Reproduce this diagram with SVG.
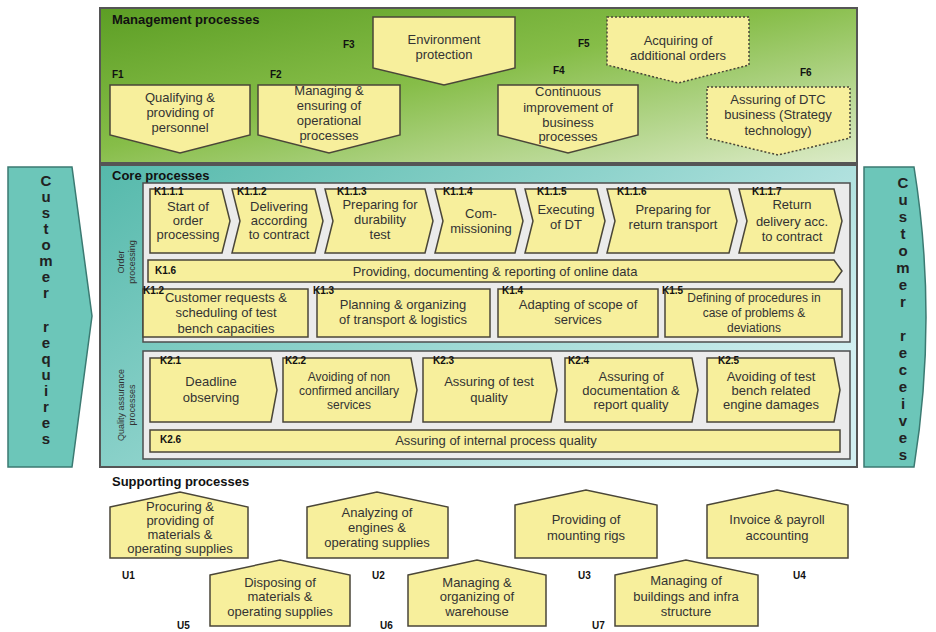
<svg xmlns="http://www.w3.org/2000/svg" width="936" height="632" viewBox="0 0 936 632">
<defs>
<linearGradient id="gMgmt" x1="0" y1="0" x2="1" y2="1">
<stop offset="0" stop-color="#5c9e24"/>
<stop offset="0.45" stop-color="#86bd48"/>
<stop offset="1" stop-color="#dcebc8"/>
</linearGradient>
<linearGradient id="gCore" x1="0" y1="0" x2="1" y2="0.6">
<stop offset="0" stop-color="#55b9ab"/>
<stop offset="0.5" stop-color="#8fd3cc"/>
<stop offset="1" stop-color="#d2eff1"/>
</linearGradient>
<style>
.t{font-family:"Liberation Sans",Arial,sans-serif;font-size:13px;fill:#333;text-anchor:middle}
.ts{font-family:"Liberation Sans",Arial,sans-serif;font-size:12px;fill:#333;text-anchor:middle}
.h{font-family:"Liberation Sans",Arial,sans-serif;font-size:13px;font-weight:bold;fill:#111}
.k{font-family:"Liberation Sans",Arial,sans-serif;font-size:10px;font-weight:bold;fill:#111}
.v{font-family:"Liberation Sans",Arial,sans-serif;font-size:9px;fill:#333;text-anchor:middle}
.c{font-family:"Liberation Sans",Arial,sans-serif;font-size:15px;font-weight:bold;fill:#222;text-anchor:middle}
.box{fill:#f7ef9c;stroke:#4a4638;stroke-width:1.5}
.dash{fill:#f7ef9c;stroke:#4a4638;stroke-width:1.5;stroke-dasharray:2 2}
.panel{fill:#ebebeb;stroke:#4d4d4d;stroke-width:1.5}
.cust{fill:#6cc6b9;stroke:#3b7a72;stroke-width:1.5}
</style>
</defs>
<rect width="936" height="632" fill="#ffffff"/>

<g id="management">
<rect x="100" y="8" width="757" height="155" fill="url(#gMgmt)" stroke="#555" stroke-width="2"/>
<text class="h" x="112" y="24">Management processes</text>
</g>
<g id="core">
<rect x="100" y="165" width="757" height="302" fill="url(#gCore)" stroke="#555" stroke-width="2"/>
<text class="h" x="112" y="180">Core processes</text>
</g>

<g id="customer-requires">
<polygon class="cust" points="8,167 72,167 92,316 72,467 8,467"/>
<text class="c" x="46" y="186">C</text><text class="c" x="46" y="202">u</text><text class="c" x="46" y="218">s</text><text class="c" x="46" y="234">t</text><text class="c" x="46" y="250">o</text><text class="c" x="46" y="266">m</text><text class="c" x="46" y="282">e</text><text class="c" x="46" y="298">r</text>
<text class="c" x="46" y="332">r</text><text class="c" x="46" y="348">e</text><text class="c" x="46" y="364">q</text><text class="c" x="46" y="380">u</text><text class="c" x="46" y="396">i</text><text class="c" x="46" y="412">r</text><text class="c" x="46" y="428">e</text><text class="c" x="46" y="444">s</text>
</g>
<g id="customer-receives">
<path class="cust" d="M864,167 L914,167 Q938,317 914,467 L864,467 Z"/>
<text class="c" x="903" y="188">C</text><text class="c" x="903" y="205">u</text><text class="c" x="903" y="222">s</text><text class="c" x="903" y="239">t</text><text class="c" x="903" y="256">o</text><text class="c" x="903" y="273">m</text><text class="c" x="903" y="290">e</text><text class="c" x="903" y="307">r</text>
<text class="c" x="903" y="341">r</text><text class="c" x="903" y="358">e</text><text class="c" x="903" y="375">c</text><text class="c" x="903" y="392">e</text><text class="c" x="903" y="409">i</text><text class="c" x="903" y="426">v</text><text class="c" x="903" y="443">e</text><text class="c" x="903" y="460">s</text>
</g>

<!-- Management nodes -->
<g id="F1">
<text class="k" x="112" y="78">F1</text>
<polygon class="box" points="110,85 250,85 250,135 180,153 110,135"/>
<text class="t" x="180" y="102">Qualifying &amp;</text><text class="t" x="180" y="117">providing of</text><text class="t" x="180" y="132">personnel</text>
</g>
<g id="F2">
<text class="k" x="270" y="78">F2</text>
<polygon class="box" points="258,85 400,85 400,135 329,153 258,135"/>
<text class="t" x="329" y="95">Managing &amp;</text><text class="t" x="329" y="110">ensuring of</text><text class="t" x="329" y="125">operational</text><text class="t" x="329" y="140">processes</text>
</g>
<g id="F3">
<text class="k" x="343" y="48">F3</text>
<polygon class="box" points="373,17 515,17 515,68 444,85 373,68"/>
<text class="t" x="444" y="44">Environment</text><text class="t" x="444" y="59">protection</text>
</g>
<g id="F4">
<text class="k" x="553" y="74">F4</text>
<polygon class="box" points="498,85 638,85 638,135 568,153 498,135"/>
<text class="t" x="568" y="96">Continuous</text><text class="t" x="568" y="112">improvement of</text><text class="t" x="568" y="127">business</text><text class="t" x="568" y="141">processes</text>
</g>
<g id="F5">
<text class="k" x="578" y="47">F5</text>
<polygon class="dash" points="607,17 749,17 749,65 678,83 607,65"/>
<text class="t" x="678" y="45">Acquiring of</text><text class="t" x="678" y="60">additional orders</text>
</g>
<g id="F6">
<text class="k" x="800" y="76">F6</text>
<polygon class="dash" points="707,87 850,87 850,138 778,155 707,138"/>
<text class="t" x="778" y="104">Assuring of DTC</text><text class="t" x="778" y="119">business (Strategy</text><text class="t" x="778" y="135">technology)</text>
</g>

<!-- Order processing panel -->
<g id="order-processing">
<rect class="panel" x="143" y="183" width="707" height="159"/>
<text class="v" transform="translate(124,262) rotate(-90)">Order</text>
<text class="v" transform="translate(135,262) rotate(-90)">processing</text>
</g>
<g id="K1.1.1">
<polygon class="box" points="150,189 222,189 230,221 222,253 150,253"/>
<text class="k" x="154" y="195">K1.1.1</text>
<text class="t" x="188" y="211">Start of</text><text class="t" x="188" y="225">order</text><text class="t" x="188" y="239">processing</text>
</g>
<g id="K1.1.2">
<polygon class="box" points="232,189 315,189 323,221 315,253 232,253 240,221"/>
<text class="k" x="237" y="195">K1.1.2</text>
<text class="t" x="279" y="211">Delivering</text><text class="t" x="279" y="225">according</text><text class="t" x="279" y="239">to contract</text>
</g>
<g id="K1.1.3">
<polygon class="box" points="325,189 425,189 433,221 425,253 325,253 333,221"/>
<text class="k" x="337" y="195">K1.1.3</text>
<text class="t" x="380" y="209">Preparing for</text><text class="t" x="380" y="224">durability</text><text class="t" x="380" y="239">test</text>
</g>
<g id="K1.1.4">
<polygon class="box" points="435,189 515,189 523,221 515,253 435,253 443,221"/>
<text class="k" x="443" y="195">K1.1.4</text>
<text class="t" x="481" y="218">Com-</text><text class="t" x="481" y="233">missioning</text>
</g>
<g id="K1.1.5">
<polygon class="box" points="525,189 597,189 605,221 597,253 525,253 533,221"/>
<text class="k" x="537" y="195">K1.1.5</text>
<text class="t" x="566" y="214">Executing</text><text class="t" x="566" y="229">of DT</text>
</g>
<g id="K1.1.6">
<polygon class="box" points="607,189 729,189 737,221 729,253 607,253 615,221"/>
<text class="k" x="617" y="195">K1.1.6</text>
<text class="t" x="673" y="214">Preparing for</text><text class="t" x="673" y="229">return transport</text>
</g>
<g id="K1.1.7">
<polygon class="box" points="739,189 834,189 842,221 834,253 739,253 747,221"/>
<text class="k" x="752" y="195">K1.1.7</text>
<text class="t" x="792" y="209">Return</text><text class="t" x="792" y="226">delivery acc.</text><text class="t" x="792" y="241">to contract</text>
</g>
<g id="K1.6">
<polygon class="box" points="148,260 834,260 842,271 834,282 148,282"/>
<text class="k" x="155" y="274">K1.6</text>
<text class="t" x="495" y="276">Providing, documenting &amp; reporting of online data</text>
</g>
<g id="K1.2">
<rect class="box" x="143" y="289" width="165" height="48"/>
<text class="k" x="143" y="294">K1.2</text>
<text class="t" x="226" y="302">Customer requests &amp;</text><text class="t" x="226" y="317">scheduling of test</text><text class="t" x="226" y="333">bench capacities</text>
</g>
<g id="K1.3">
<rect class="box" x="317" y="289" width="173" height="48"/>
<text class="k" x="313" y="294">K1.3</text>
<text class="t" x="403" y="309">Planning &amp; organizing</text><text class="t" x="403" y="324">of transport &amp; logistics</text>
</g>
<g id="K1.4">
<rect class="box" x="498" y="289" width="160" height="48"/>
<text class="k" x="502" y="294">K1.4</text>
<text class="t" x="578" y="309">Adapting of scope of</text><text class="t" x="578" y="324">services</text>
</g>
<g id="K1.5">
<rect class="box" x="665" y="289" width="177" height="48"/>
<text class="k" x="662" y="294">K1.5</text>
<text class="ts" x="754" y="302">Defining of procedures in</text><text class="ts" x="754" y="317">case of problems &amp;</text><text class="ts" x="754" y="332">deviations</text>
</g>

<!-- Quality assurance panel -->
<g id="quality-assurance">
<rect class="panel" x="143" y="351" width="707" height="108"/>
<text class="v" transform="translate(124,405) rotate(-90)">Quality assurance</text>
<text class="v" transform="translate(135,405) rotate(-90)">processes</text>
</g>
<g id="K2.1">
<polygon class="box" points="150,358 271,358 277,390 271,422 150,422"/>
<text class="k" x="160" y="364">K2.1</text>
<text class="t" x="211" y="386">Deadline</text><text class="t" x="211" y="402">observing</text>
</g>
<g id="K2.2">
<polygon class="box" points="283,358 411,358 417,390 411,422 283,422"/>
<text class="k" x="285" y="364">K2.2</text>
<text class="ts" x="349" y="381">Avoiding of non</text><text class="ts" x="349" y="395">confirmed ancillary</text><text class="ts" x="349" y="409">services</text>
</g>
<g id="K2.3">
<polygon class="box" points="423,358 551,358 557,390 551,422 423,422"/>
<text class="k" x="433" y="364">K2.3</text>
<text class="t" x="489" y="386">Assuring of test</text><text class="t" x="489" y="402">quality</text>
</g>
<g id="K2.4">
<polygon class="box" points="565,358 692,358 698,390 692,422 565,422"/>
<text class="k" x="568" y="364">K2.4</text>
<text class="t" x="631" y="381">Assuring of</text><text class="t" x="631" y="395">documentation &amp;</text><text class="t" x="631" y="409">report quality</text>
</g>
<g id="K2.5">
<polygon class="box" points="707,358 834,358 840,390 834,422 707,422"/>
<text class="k" x="718" y="364">K2.5</text>
<text class="t" x="771" y="381">Avoiding of test</text><text class="t" x="771" y="395">bench related</text><text class="t" x="771" y="409">engine damages</text>
</g>
<g id="K2.6">
<rect class="box" x="150" y="430" width="690" height="22"/>
<text class="k" x="160" y="443">K2.6</text>
<text class="t" x="496" y="445">Assuring of internal process quality</text>
</g>

<!-- Supporting processes -->
<g id="supporting">
<text class="h" x="112" y="486">Supporting processes</text>
</g>
<g id="U1">
<polygon class="box" points="110,507 180,492 248,507 248,558 110,558"/>
<text class="t" x="180" y="511">Procuring &amp;</text><text class="t" x="180" y="525">providing of</text><text class="t" x="180" y="539">materials &amp;</text><text class="t" x="180" y="553">operating supplies</text>
<text class="k" x="122" y="579">U1</text>
</g>
<g id="U2">
<polygon class="box" points="307,507 377,492 448,507 448,558 307,558"/>
<text class="t" x="377" y="517">Analyzing of</text><text class="t" x="377" y="532">engines &amp;</text><text class="t" x="377" y="547">operating supplies</text>
<text class="k" x="372" y="579">U2</text>
</g>
<g id="U3">
<polygon class="box" points="515,505 586,490 657,505 657,558 515,558"/>
<text class="t" x="586" y="524">Providing of</text><text class="t" x="586" y="540">mounting rigs</text>
<text class="k" x="578" y="579">U3</text>
</g>
<g id="U4">
<polygon class="box" points="707,505 777,490 848,505 848,558 707,558"/>
<text class="t" x="777" y="524">Invoice &amp; payroll</text><text class="t" x="777" y="540">accounting</text>
<text class="k" x="793" y="579">U4</text>
</g>
<g id="U5">
<polygon class="box" points="210,575 280,560 350,575 350,626 210,626"/>
<text class="t" x="280" y="587">Disposing of</text><text class="t" x="280" y="601">materials &amp;</text><text class="t" x="280" y="616">operating supplies</text>
<text class="k" x="177" y="629">U5</text>
</g>
<g id="U6">
<polygon class="box" points="408,575 477,560 546,575 546,626 408,626"/>
<text class="t" x="477" y="587">Managing &amp;</text><text class="t" x="477" y="601">organizing of</text><text class="t" x="477" y="616">warehouse</text>
<text class="k" x="380" y="629">U6</text>
</g>
<g id="U7">
<polygon class="box" points="615,575 686,560 758,575 758,626 615,626"/>
<text class="t" x="686" y="585">Managing of</text><text class="t" x="686" y="601">buildings and infra</text><text class="t" x="686" y="616">structure</text>
<text class="k" x="592" y="629">U7</text>
</g>
<g id="connectors"></g>
</svg>
